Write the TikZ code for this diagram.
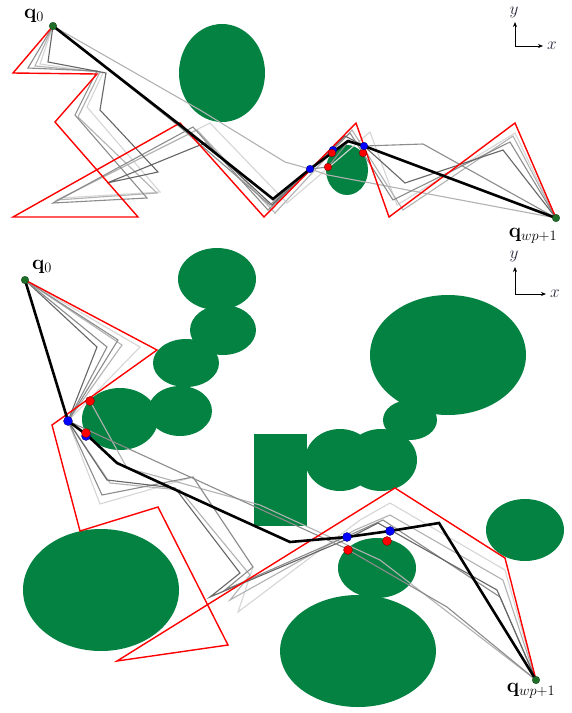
\documentclass[tikz,border=0pt]{standalone}
\usetikzlibrary{arrows.meta}
\definecolor{obsgreen}{RGB}{3,130,66}
\definecolor{dotgreen}{RGB}{30,110,40}
\definecolor{axcol}{RGB}{40,40,60}
\begin{document}
\begin{tikzpicture}[x=1pt,y=-1pt,line join=miter,
  obs/.style={fill=obsgreen,draw=none},
  redpath/.style={draw=red,line width=1.4pt},
  blackpath/.style={draw=black,line width=2.6pt},
  gA/.style={draw=black!60,line width=1.1pt},
  gB/.style={draw=black!45,line width=1.1pt},
  gC/.style={draw=black!30,line width=1.1pt},
  gD/.style={draw=black!16,line width=1.1pt},
  bdot/.style={fill=blue,draw=blue!40!black,line width=0.3pt},
  rdot/.style={fill=red,draw=red!40!black,line width=0.3pt},
  gdot/.style={fill=dotgreen,draw=dotgreen!60!black,line width=0.3pt},
  qlab/.style={font=\huge,inner sep=0pt},
  axlab/.style={font=\LARGE,text=axcol,inner sep=0pt},
  axis/.style={draw=black,line width=0.7pt,-{Stealth[length=5pt,width=4pt]}}]
\useasboundingbox (0,0) rectangle (571,713);
\fill[white] (0,0) rectangle (571,713);

%================ TOP PANEL ================
\coordinate (q0a) at (53,26);
\coordinate (qea) at (556,218);
% obstacles
\fill[obs] (222,73) ellipse [x radius=43pt, y radius=49pt];
\fill[obs] (347,170) ellipse [x radius=21pt, y radius=25pt];
% gray paths
\draw[gD] (q0a) -- (40,64) -- (103,73) -- (87,107) -- (160,192) -- (62,198) -- (210,123) -- (287,203) -- (370,132) -- (397,205) -- (515,133) -- (qea);
\draw[gC] (q0a) -- (200,110) -- (285,162) -- (310,169) -- (328,175) -- (qea);
\draw[gC] (q0a) -- (35,66) -- (100,72) -- (78,117) -- (157,193) -- (57,200) -- (197,130) -- (275,213) -- (352,130) -- (403,210) -- (513,136) -- (qea);
\draw[gB] (q0a) -- (28,68) -- (97,71) -- (75,115) -- (147,198) -- (53,203) -- (193,127) -- (268,210) -- (350,133) -- (393,200) -- (510,142) -- (qea);
\draw[gA] (q0a) -- (48,62) -- (106,73) -- (100,110) -- (158,172) -- (107,183) -- (205,143) -- (272,205) -- (345,136) -- (364,146) -- (405,183) -- (503,150) -- (qea);
\draw[gB] (q0a) -- (180,127) -- (270,205) -- (310,169) -- (328,167) -- (348,142) -- (364,146) -- (423,144) -- (qea);
% red path
\draw[redpath] (q0a) -- (13,73) -- (97,74) -- (55,122) -- (138,217) -- (13,217) -- (180,123) -- (264,217) -- (356,123) -- (389,217) -- (515,123) -- (qea);
% black path
\draw[blackpath] (q0a) -- (180,125) -- (273,199) -- (310,169) -- (348,141) -- (364,146) -- (qea);
% dots
\fill[bdot] (333,150) circle (3.8pt);
\fill[rdot] (332,153) circle (3.8pt);
\fill[rdot] (328,167) circle (3.8pt);
\fill[rdot] (363,153) circle (3.8pt);
\fill[bdot] (310,169) circle (3.8pt);
\fill[bdot] (364,146) circle (3.8pt);
\filldraw[gdot] (q0a) circle (3.8pt);
\filldraw[gdot] (qea) circle (3.8pt);
\node[qlab] (lq0a) at (34,16) {$\mathbf{q}_0$};
\node[qlab] (lqea) at (533,236) {$\mathbf{q}_{wp+1}$};
% axes
\coordinate (oa) at (515,46);
\coordinate (ya) at (515,22);
\coordinate (xa) at (543,46);
\draw[axis] (oa) -- (ya);
\draw[axis] (oa) -- (xa);
\node[axlab] (lya) at (514,12) {$y$};
\node[axlab] (lxa) at (552,46) {$x$};

%================ BOTTOM PANEL ================
\coordinate (q0b) at (25,280);
\coordinate (qeb) at (536,680);
% obstacles
\fill[obs] (217,279) ellipse [x radius=39pt, y radius=31pt];
\fill[obs] (223,330) ellipse [x radius=33pt, y radius=25pt];
\fill[obs] (186,363) ellipse [x radius=33pt, y radius=24pt];
\fill[obs] (180,411) ellipse [x radius=32pt, y radius=25pt];
\fill[obs] (120,419) ellipse [x radius=38pt, y radius=31pt];
\fill[obs] (254,434) rectangle (307,526);
\fill[obs] (340,460) ellipse [x radius=35pt, y radius=31pt];
\fill[obs] (381,460) ellipse [x radius=36pt, y radius=31pt];
\fill[obs] (410,420) ellipse [x radius=27pt, y radius=20pt];
\fill[obs] (448,355) ellipse [x radius=78pt, y radius=60pt];
\fill[obs] (525,530) ellipse [x radius=39pt, y radius=31pt];
\fill[obs] (377,568) ellipse [x radius=39pt, y radius=30pt];
\fill[obs] (358,651) ellipse [x radius=78pt, y radius=56pt];
\fill[obs] (101,590) ellipse [x radius=78pt, y radius=61pt];
% gray paths
\draw[gD] (q0b) -- (140,347) -- (68,421) -- (100,504) -- (193,477) -- (253,567) -- (238,612) -- (360,520) -- (390,503) -- (505,570) -- (qeb);
\draw[gC] (q0b) -- (122,345) -- (68,421) -- (110,483) -- (180,490) -- (250,575) -- (230,600) -- (355,530) -- (390,515) -- (503,580) -- (qeb);
\draw[gC] (90,401) -- (127,468) -- (260,505) -- (380,560) -- (qeb);
\draw[gB] (q0b) -- (118,340) -- (68,421) -- (102,495) -- (193,477) -- (253,567) -- (225,590) -- (350,535) -- (383,520) -- (500,597) -- (qeb);
\draw[gA] (q0b) -- (97,347) -- (68,421) -- (107,480) -- (175,488) -- (240,573) -- (210,597) -- (345,540) -- (378,523) -- (497,590) -- (qeb);
\draw[gB] (q0b) -- (107,347) -- (68,421) -- (345,548) -- (447,607) -- (qeb);
% red path
\draw[redpath] (q0b) -- (157,350) -- (52,425) -- (80,531) -- (158,507) -- (228,645) -- (117,661) -- (395,488) -- (505,558) -- (qeb);
% black path
\draw[blackpath] (q0b) -- (68,421) -- (87,435) -- (117,463) -- (213,507) -- (290,542) -- (347,537) -- (390,531) -- (439,523) -- (qeb);
% dots
\fill[bdot] (68,421) circle (4.5pt);
\fill[bdot] (86,436) circle (4.5pt);
\fill[rdot] (86,433) circle (4.5pt);
\fill[rdot] (90,401) circle (4.5pt);
\fill[bdot] (347,537) circle (4.5pt);
\fill[bdot] (390,531) circle (4.5pt);
\fill[rdot] (348,550) circle (4.5pt);
\fill[rdot] (387,541) circle (4.5pt);
\filldraw[gdot] (q0b) circle (3.8pt);
\filldraw[gdot] (qeb) circle (3.8pt);
\node[qlab] (lq0b) at (42,267) {$\mathbf{q}_0$};
\node[qlab] (lqeb) at (531,691) {$\mathbf{q}_{wp+1}$};
% axes
\coordinate (ob) at (515,294);
\coordinate (yb) at (515,267);
\coordinate (xb) at (546,294);
\draw[axis] (ob) -- (yb);
\draw[axis] (ob) -- (xb);
\node[axlab] (lyb) at (514,256) {$y$};
\node[axlab] (lxb) at (555,294) {$x$};
\end{tikzpicture}
\end{document}
